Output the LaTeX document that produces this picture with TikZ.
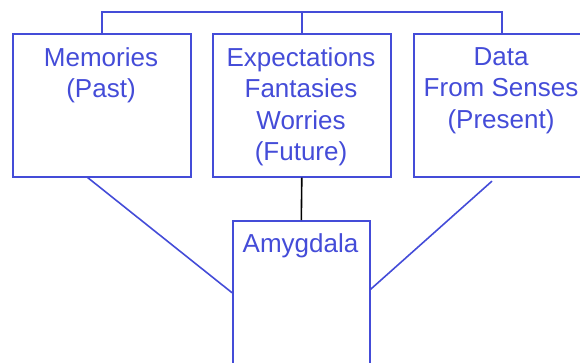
\documentclass[tikz,border=0pt]{standalone}
\usepackage{fontspec}
\setmainfont{Liberation Sans}
\usetikzlibrary{calc}
\definecolor{bl}{RGB}{68,76,216}
\begin{document}
\begin{tikzpicture}[x=1pt,y=-1pt,
  box/.style={draw=bl,line width=1.6pt,minimum height=143pt,inner sep=0pt,anchor=north west},
  lbl/.style={text=bl,font=\fontsize{26}{31.5}\selectfont,align=center,inner sep=0pt,anchor=north},
  conn/.style={draw=bl,line width=1.6pt}]
\useasboundingbox (0,0) rectangle (580,362);
\clip (0,0) rectangle (580,362);
\node[box,minimum width=178pt] (mem) at (12,33) {};
\node[box,minimum width=178pt] (exp) at (212,33) {};
\node[box,minimum width=176pt] (dat) at (413,33) {};
\node[box,minimum width=137pt,minimum height=170pt] (amy) at (232,220) {};
\node[lbl] (tmem) at (101,47) {Memories\\(Past)};
\node[lbl] (texp) at (301,47) {Expectations\\Fantasies\\Worries\\(Future)};
\node[lbl] (tdat) at (501,47) {Data\\From Senses\\(Present)};
\node[lbl] (tamy) at (300.5,233) {Amygdala};
\coordinate (top) at ($(exp.north)+(0,-21)$);
\draw[conn] (mem.north) |- (top) -| (dat.north);
\draw[conn] (exp.north) -- (top);
\draw[conn] ($(mem.south west)+(75.7,0)$) -- ($(amy.north west)+(0,72.7)$);
\draw[conn] ($(dat.south west)+(79,3.5)$) -- ($(amy.north east)+(0,69.3)$);
\draw[black,line width=1.6pt] (exp.south) -- (amy.north);
\end{tikzpicture}
\end{document}
